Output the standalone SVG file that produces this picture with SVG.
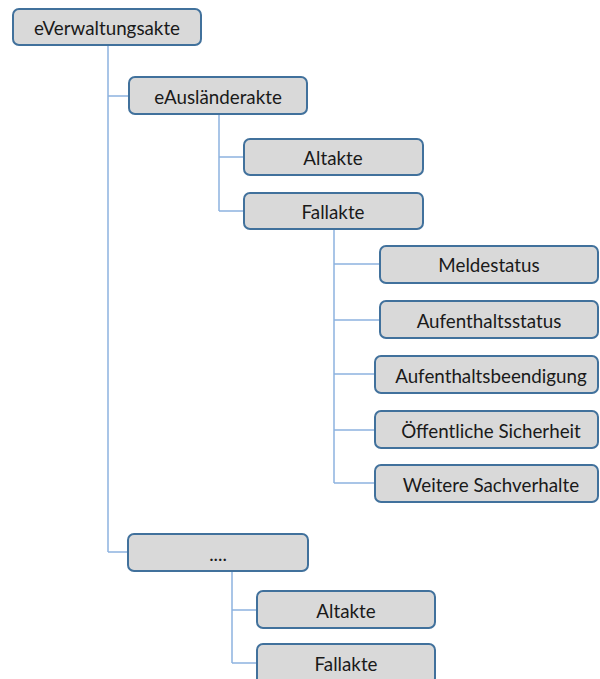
<svg xmlns="http://www.w3.org/2000/svg" width="600" height="679" viewBox="0 0 600 679">
  <style>
    .box { fill: #d9d9d9; stroke: #41719c; stroke-width: 2; }
    .lbl { font-family: Lato, "Open Sans", sans-serif; font-size: 18.8px; fill: #1a1a1a; text-anchor: middle; dominant-baseline: central; }
    .wire { fill: none; stroke: #8db3e0; stroke-width: 1.5; }
  </style>
  <rect width="600" height="679" fill="#ffffff"/>

  <g id="connectors">
    <!-- root trunk -->
    <path class="wire" d="M108 45 V552 M108 96 H129 M108 552 H128"/>
    <!-- eAuslaenderakte children -->
    <path class="wire" d="M219 114 V211 M219 157 H244 M219 211 H244"/>
    <!-- Fallakte children -->
    <path class="wire" d="M334 229 V483 M334 264 H380 M334 320 H380 M334 374 H375 M334 430 H375 M334 483 H375"/>
    <!-- placeholder children -->
    <path class="wire" d="M232 571 V663 M232 610 H257 M232 663 H257"/>
  </g>

  <g id="n-verwaltungsakte">
    <rect class="box" x="13" y="9" width="188" height="36" rx="6"/>
    <text class="lbl" x="107" y="27">eVerwaltungsakte</text>
  </g>
  <g id="n-auslaenderakte">
    <rect class="box" x="129" y="77" width="178" height="37" rx="6"/>
    <text class="lbl" x="218" y="96">eAusländerakte</text>
  </g>
  <g id="n-altakte-1">
    <rect class="box" x="244" y="139" width="179" height="36" rx="6"/>
    <text class="lbl" x="333" y="157">Altakte</text>
  </g>
  <g id="n-fallakte-1">
    <rect class="box" x="244" y="193" width="179" height="36" rx="6"/>
    <text class="lbl" x="333" y="211">Fallakte</text>
  </g>
  <g id="n-meldestatus">
    <rect class="box" x="380" y="246" width="218" height="37" rx="6"/>
    <text class="lbl" x="489" y="264">Meldestatus</text>
  </g>
  <g id="n-aufenthaltsstatus">
    <rect class="box" x="380" y="301" width="218" height="37" rx="6"/>
    <text class="lbl" x="489" y="320">Aufenthaltsstatus</text>
  </g>
  <g id="n-aufenthaltsbeendigung">
    <rect class="box" x="375" y="356" width="223" height="37" rx="6"/>
    <text class="lbl" x="491" y="375">Aufenthaltsbeendigung</text>
  </g>
  <g id="n-sicherheit">
    <rect class="box" x="375" y="411" width="223" height="37" rx="6"/>
    <text class="lbl" x="491" y="430">Öffentliche Sicherheit</text>
  </g>
  <g id="n-sachverhalte">
    <rect class="box" x="375" y="465" width="223" height="37" rx="6"/>
    <text class="lbl" x="491" y="484">Weitere Sachverhalte</text>
  </g>
  <g id="n-weitere">
    <rect class="box" x="128" y="534" width="180" height="37" rx="6"/>
    <text class="lbl" x="218" y="553">....</text>
  </g>
  <g id="n-altakte-2">
    <rect class="box" x="257" y="591" width="178" height="37" rx="6"/>
    <text class="lbl" x="346" y="610">Altakte</text>
  </g>
  <g id="n-fallakte-2">
    <rect class="box" x="257" y="644" width="178" height="40" rx="6"/>
    <text class="lbl" x="346" y="663">Fallakte</text>
  </g>
</svg>
